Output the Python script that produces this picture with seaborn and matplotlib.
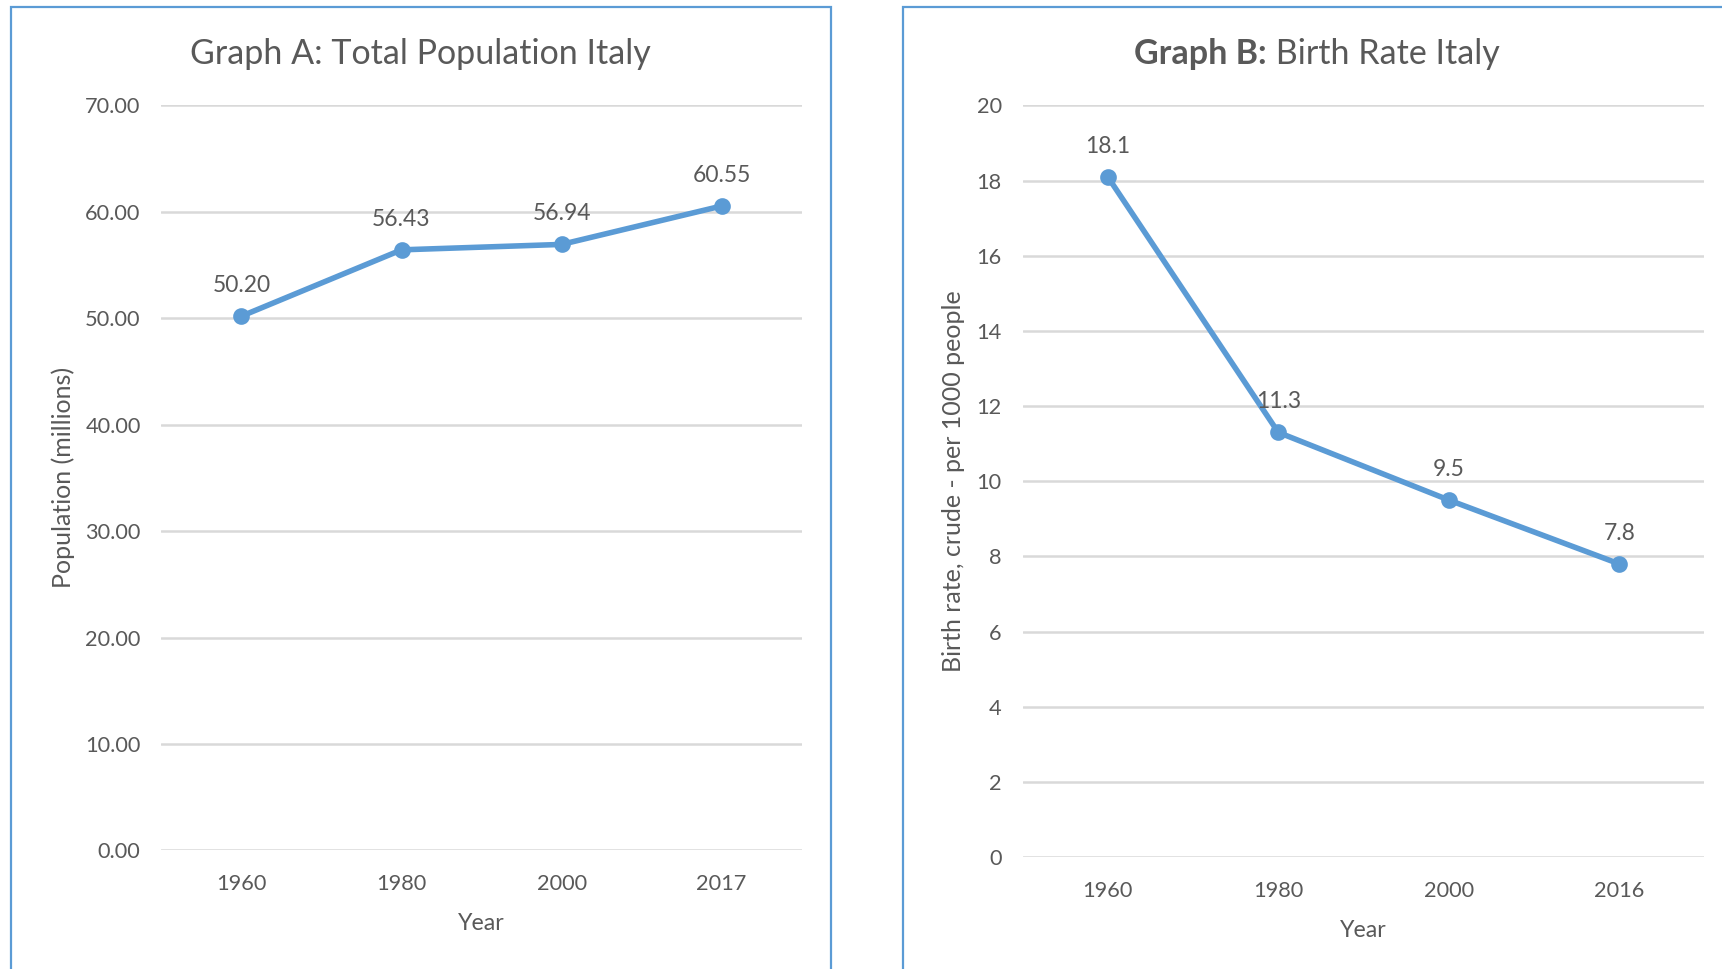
import pandas as pd
import matplotlib.pyplot as plt
import seaborn as sns
from matplotlib.patches import Rectangle
from matplotlib.ticker import FormatStrFormatter

# Graph A data
pop_years = ['1960', '1980', '2000', '2017']
pop_values = [50.20, 56.43, 56.94, 60.55]

# Graph B data
birth_years = ['1960', '1980', '2000', '2016']
birth_values = [18.1, 11.3, 9.5, 7.8]

sns.set_style('white')
plt.rcParams['font.family'] = ['Lato', 'DejaVu Sans']

blue = '#5B9BD5'
grey = '#595959'
grid = '#D9D9D9'

fig = plt.figure(figsize=(17.22, 9.69), dpi=100)

# panel borders
fig.patches.append(Rectangle((0.0064, -0.02), 0.4764, 1.0132, transform=fig.transFigure,
                             fill=False, edgecolor=blue, linewidth=1.6))
fig.patches.append(Rectangle((0.5242, -0.02), 0.52, 1.0132, transform=fig.transFigure,
                             fill=False, edgecolor=blue, linewidth=1.6))

ax1 = fig.add_axes([0.09375, 0.1224, 0.3718, 0.7688])
ax2 = fig.add_axes([0.5938, 0.1156, 0.3960, 0.7756])


def draw(ax, years, values, ylim, step, fmt, ylabel, ypad, labels):
    df = pd.DataFrame({'Year': years, 'v': values})
    sns.pointplot(data=df, x='Year', y='v', ax=ax, color=blue,
                  markers='o', markersize=9, linewidth=4)
    ax.set_xlim(-0.5, len(years) - 0.5)
    ax.set_ylim(*ylim)
    ax.set_yticks([ylim[0] + i * step for i in range(int((ylim[1] - ylim[0]) / step) + 1)])
    ax.yaxis.set_major_formatter(FormatStrFormatter(fmt))
    ax.grid(axis='y', color=grid, linewidth=1.8)
    ax.set_axisbelow(True)
    for s in ax.spines.values():
        s.set_visible(False)
    ax.tick_params(length=0, labelsize=15.7, labelcolor=grey)
    ax.tick_params(axis='y', pad=15)
    ax.tick_params(axis='x', pad=17)
    ax.set_xlabel('Year', fontsize=16.7, color=grey, labelpad=14)
    ax.set_ylabel(ylabel, fontsize=18, color=grey, labelpad=ypad)
    for i, (v, lab) in enumerate(zip(values, labels)):
        ax.annotate(lab, (i, v), xytext=(0, 22), textcoords='offset points',
                    ha='center', va='center', fontsize=16.5, color=grey)


draw(ax1, pop_years, pop_values, (0, 70), 10, '%.2f', 'Population (millions)', 7,
     ['%.2f' % v for v in pop_values])
draw(ax2, birth_years, birth_values, (0, 20), 2, '%d', 'Birth rate, crude - per 1000 people', 8,
     ['%.1f' % v for v in birth_values])

fig.text(0.2443, 0.9445, 'Graph A: Total Population Italy', ha='center', va='center',
         fontsize=24.5, color=grey)
fig.text(0.7357, 0.9445, 'Graph B:', ha='right', va='center',
         fontsize=24.5, color=grey, fontweight='bold')
fig.text(0.7357, 0.9445, ' Birth Rate Italy', ha='left', va='center',
         fontsize=24.5, color=grey)

fig.savefig('out.png', dpi=100)
